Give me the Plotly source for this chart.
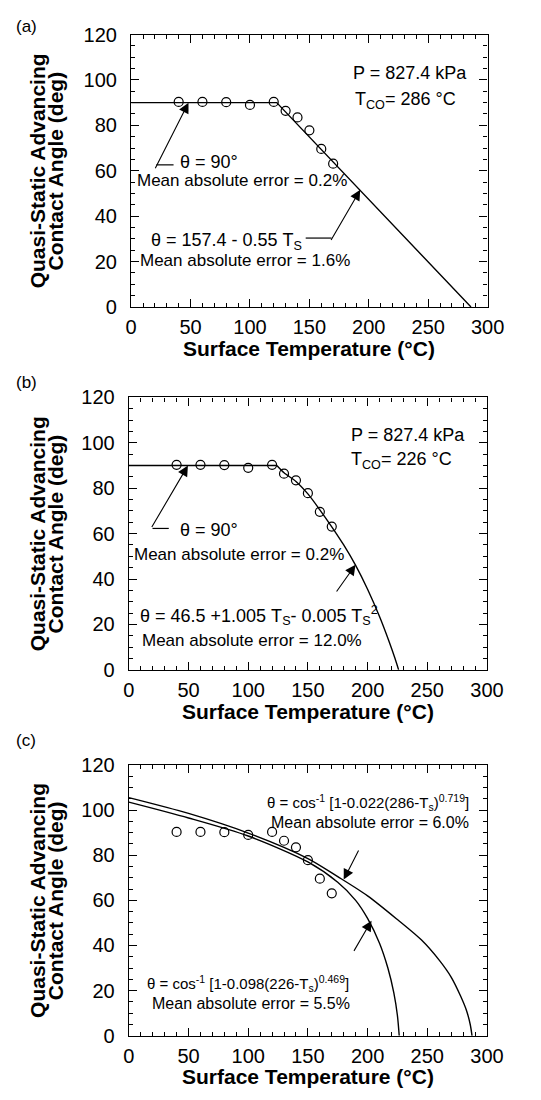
import plotly.graph_objects as go

W, H = 541, 1100

# ---------------- data ----------------
temp_pts = [40, 60, 80, 100, 120, 130, 140, 150, 160, 170]
angle_pts = [90.3, 90.3, 90.2, 89.0, 90.3, 86.4, 83.5, 77.8, 69.6, 63.1]

fit_a_T = [0, 122.5, 286]
fit_a_theta = [90, 90, 0]

fit_b_plateau_T = [0, 124]
fit_b_plateau_theta = [90, 90]
fit_b_T = [124, 130, 140, 150, 160, 170, 180, 190, 200, 210, 218, 223, 226]
fit_b_theta = [90, 86.8, 83, 77.5, 70.5, 63, 55, 46, 35.5, 23.5, 12.5, 5, 0]

fit_c286_T = [0, 50, 100, 150, 175, 200, 225, 245, 260, 270, 278, 283, 286, 287.5]
fit_c286_theta = [105.5, 98.5, 89.8, 78.5, 70.5, 62, 51.5, 42.5, 33.5, 26, 17.5, 11, 5, 0]

fit_c226_T = [0, 50, 100, 150, 175, 190, 200, 210, 217, 222, 225, 226.5]
fit_c226_theta = [103.5, 96.5, 88.5, 77, 68, 60, 52, 41, 30, 19, 9, 0]

x_ticks = [0, 50, 100, 150, 200, 250, 300]
y_ticks = [0, 20, 40, 60, 80, 100, 120]

# ---------------- layout geometry (pixels) ----------------
panels = [
    dict(l=130.7, r=503.0, t=24.0, b=302.0),
    dict(l=128.3, r=502.3, t=394.3, b=672.3),
    dict(l=128.3, r=502.3, t=769.3, b=1045.7),
]

FONT = "Liberation Sans, Arial, Helvetica, sans-serif"


def px(x):
    return x / W


def py(y):
    return 1 - y / H


fig = go.Figure()
line_style = dict(color="black", width=1.4)
marker_style = dict(symbol="circle-open", size=9, color="black", line=dict(width=1.2))

for i, p in enumerate(panels):
    n = "" if i == 0 else str(i + 1)
    xa, ya = "x" + n, "y" + n
    fig.add_trace(go.Scatter(x=temp_pts, y=angle_pts, mode="markers", marker=marker_style,
                             xaxis=xa, yaxis=ya, showlegend=False, cliponaxis=False))
    common = dict(
        showline=True, linecolor="black", linewidth=1.3, mirror="ticks",
        ticks="inside", ticklen=8, tickwidth=1.2, tickcolor="black",
        showgrid=False, zeroline=False,
        tickfont=dict(family=FONT, size=20, color="black"),
        minor=dict(ticks="inside", ticklen=4, tickwidth=1, tickcolor="black", showgrid=False),
    )
    fig.layout["xaxis" + n] = dict(
        domain=[px(p["l"]), px(p["r"])], range=[0, 300], anchor=ya,
        tickvals=x_ticks, ticktext=[str(v) for v in x_ticks],
        ticklabelstandoff=2, **common)
    fig.layout["xaxis" + n].minor.dtick = 10
    fig.layout["xaxis" + n].minor.tick0 = 0
    fig.layout["yaxis" + n] = dict(
        domain=[py(p["b"]), py(p["t"])], range=[0, 120], anchor=xa,
        tickvals=y_ticks, ticktext=[str(v) for v in y_ticks],
        ticklabelstandoff=9, **common)
    fig.layout["yaxis" + n].minor.dtick = 5
    fig.layout["yaxis" + n].minor.tick0 = 0

# fit curves
fig.add_trace(go.Scatter(x=fit_a_T, y=fit_a_theta, mode="lines", line=line_style,
                         xaxis="x", yaxis="y", showlegend=False))
fig.add_trace(go.Scatter(x=fit_b_plateau_T, y=fit_b_plateau_theta, mode="lines", line=line_style,
                         xaxis="x2", yaxis="y2", showlegend=False))
fig.add_trace(go.Scatter(x=fit_b_T, y=fit_b_theta, mode="lines",
                         line=dict(shape="spline", smoothing=0.8, **line_style),
                         xaxis="x2", yaxis="y2", showlegend=False))
fig.add_trace(go.Scatter(x=fit_c286_T, y=fit_c286_theta, mode="lines",
                         line=dict(shape="spline", smoothing=0.8, **line_style),
                         xaxis="x3", yaxis="y3", showlegend=False))
fig.add_trace(go.Scatter(x=fit_c226_T, y=fit_c226_theta, mode="lines",
                         line=dict(shape="spline", smoothing=0.8, **line_style),
                         xaxis="x3", yaxis="y3", showlegend=False))

ann = []


def text(x, y, s, size=17, xanchor="center", bold=False, angle=0):
    ann.append(dict(x=px(x), y=py(y), xref="paper", yref="paper", text=s, showarrow=False,
                    xanchor=xanchor, yanchor="middle", textangle=angle,
                    font=dict(family=FONT, size=size, color="black",
                              weight="bold" if bold else "normal")))


def arrow(xref, yref, tx, ty, dx, dy):
    ann.append(dict(x=tx, y=ty, xref=xref, yref=yref, ax=dx, ay=dy, text="", showarrow=True,
                    arrowhead=2, arrowsize=1.9, arrowwidth=1.1, arrowcolor="black", standoff=0))


def hline(x0, x1, y):
    fig.add_shape(type="line", xref="paper", yref="paper", x0=px(x0), x1=px(x1), y0=py(y), y1=py(y),
                  line=dict(color="black", width=1.2))


for lab, yy in [("(a)", 16), ("(b)", 379), ("(c)", 744)]:
    text(21, yy, lab, size=17)
for p in panels:
    cy = (p["t"] + p["b"]) / 2
    cx = (p["l"] + p["r"]) / 2
    text(33, cy, "Quasi-Static Advancing", size=21, bold=True, angle=-90)
    text(52, cy, "Contact Angle (deg)", size=21, bold=True, angle=-90)
    text(cx, p["b"] + 42, "Surface Temperature (°C)", size=21, bold=True)

# panel (a)
text(360, 63, "P = 827.4 kPa", size=18, xanchor="left")
text(362, 91, "T<sub>CO</sub>= 286 °C", size=18, xanchor="left")
text(180, 154, "θ = 90°", size=18, xanchor="left")
text(246, 173, "Mean absolute error = 0.2%", size=17)
text(149, 235, "θ = 157.4 - 0.55 T<sub>S</sub>", size=18, xanchor="left")
text(250, 255, "Mean absolute error = 1.6%", size=17)
hline(157, 175, 157)
arrow("x", "y", 48.3, 90, -34, 67)
hline(313, 340, 231.7)
arrow("x", "y", 192.8, 51.6, -30, 51.7)

# panel (b)
text(358, 433, "P = 827.4 kPa", size=18, xanchor="left")
text(358, 459, "T<sub>CO</sub>= 226 °C", size=18, xanchor="left")
text(180, 530, "θ = 90°", size=18, xanchor="left")
text(243, 555, "Mean absolute error = 0.2%", size=17)
text(138, 617, "θ = 46.5 +1.005 T<sub>S</sub>- 0.005 T<sub>S</sub><sup>2</sup>", size=18, xanchor="left")
text(257, 642, "Mean absolute error = 12.0%", size=17)
hline(153, 170, 528)
arrow("x2", "y2", 49.5, 90, -37, 63)
arrow("x2", "y2", 189.9, 46.3, -20, 28.3)

# panel (c)
text(378, 808, "θ = cos<sup>-1</sup> [1-0.022(286-T<sub>s</sub>)<sup>0.719</sup>]", size=15)
text(380, 828, "Mean absolute error = 6.0%", size=16)
text(253, 992, "θ = cos<sup>-1</sup> [1-0.098(226-T<sub>s</sub>)<sup>0.469</sup>]", size=15)
text(256, 1013, "Mean absolute error = 5.5%", size=16)
arrow("x3", "y3", 180, 69.2, 15.6, -30.7)
arrow("x3", "y3", 203.3, 51, -18.4, 31.7)

fig.update_layout(
    width=W, height=H, margin=dict(l=0, r=0, t=0, b=0),
    paper_bgcolor="white", plot_bgcolor="white",
    annotations=ann, showlegend=False,
    font=dict(family=FONT, color="black"),
)

fig.write_html("out.html", config={"displayModeBar": False},
               post_script="document.body.style.margin='0px';")
